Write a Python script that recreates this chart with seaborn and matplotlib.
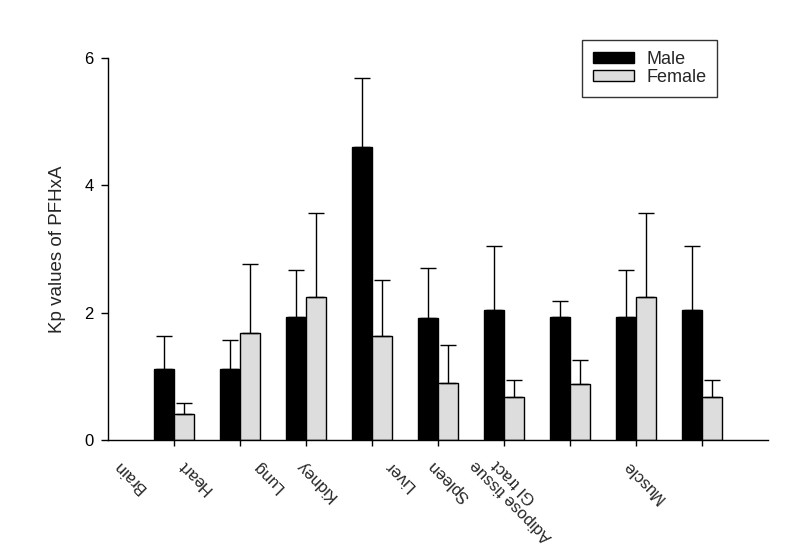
import numpy as np
import pandas as pd
import seaborn as sns
import matplotlib
matplotlib.use("Agg")
import matplotlib.pyplot as plt
from matplotlib.patches import Patch
from matplotlib.transforms import blended_transform_factory

sns.set_theme(style="ticks")
plt.rcParams['font.family'] = ['Liberation Sans', 'DejaVu Sans']

# ---- data ----
organs = ["Brain", "Heart", "Lung", "Kidney", "Liver", "Spleen",
          "Adipose tissue", "GI tract", "Muscle"]
male_vals = [1.12, 1.11, 1.93, 4.60, 1.91, 2.04, 1.93, 1.93, 2.04]
male_sd = [0.51, 0.46, 0.74, 1.08, 0.79, 1.01, 0.26, 0.74, 1.00]
female_vals = [0.41, 1.68, 2.25, 1.64, 0.89, 0.67, 0.875, 2.25, 0.67]
female_sd = [0.17, 1.08, 1.31, 0.88, 0.61, 0.28, 0.375, 1.31, 0.28]
sexes = ["Male", "Female"]
y_ticks = [0, 2, 4, 6]
# label anchor positions (data x) as drawn in the reference
label_pos = [-0.97, 0.02, 1.14, 1.80, 3.15, 3.80, 4.45, 4.79, 6.76]

df = pd.DataFrame({
    "organ": organs * 2,
    "sex": ["Male"] * len(organs) + ["Female"] * len(organs),
    "value": male_vals + female_vals,
})
sds = {"Male": male_sd, "Female": female_sd}
colors = {"Male": "#000000", "Female": "#dddddd"}

fig = plt.figure(figsize=(7.95, 5.49), dpi=100)
ax = fig.add_axes([108 / 795, 1 - 440 / 549, 660 / 795, 382 / 549])

sns.barplot(data=df, x="organ", y="value", hue="sex", order=organs,
            hue_order=sexes, palette=colors, edgecolor="black",
            linewidth=1.0, width=0.6, errorbar=None, ax=ax, legend=False)

for sex, cont in zip(sexes, ax.containers):
    for bar, sd in zip(cont.patches, sds[sex]):
        xc = bar.get_x() + bar.get_width() / 2
        h = bar.get_height()
        ax.errorbar(xc, h, yerr=[[0], [sd]], fmt="none", ecolor="black",
                    elinewidth=1.0, capsize=5.6, capthick=1.0, zorder=1)

ax.set_xlim(-1.0, 9.0)
ax.set_ylim(0, 6)
ax.set_yticks(y_ticks)
ax.set_yticklabels([str(t) for t in y_ticks], fontsize=12)
ax.set_xticks(range(len(organs)))
ax.set_xticklabels([""] * len(organs))
ax.tick_params(axis="y", direction="out", length=5, width=1, pad=5.5, colors="black")
ax.tick_params(axis="x", direction="out", length=4, width=1, colors="black")
ax.set_xlabel("")
ax.set_ylabel("Kp values of PFHxA", fontsize=13.5, labelpad=13)
sns.despine(ax=ax)
for sp in ["left", "bottom"]:
    ax.spines[sp].set_linewidth(1.0)
    ax.spines[sp].set_color("black")

trans = blended_transform_factory(ax.transData, ax.transAxes)
for name, xp in zip(organs, label_pos):
    ax.text(xp, -0.045, name, rotation=135, ha="left", va="top",
            fontsize=12, transform=trans)

handles = [Patch(facecolor=colors[s], edgecolor="black", linewidth=1.0, label=s)
           for s in sexes]
leg = ax.legend(handles=handles, loc="upper left",
                bbox_to_anchor=(582 / 795, 1 - 40 / 549),
                bbox_transform=fig.transFigure, fontsize=13,
                frameon=True, fancybox=False, shadow=False,
                handlelength=2.3, handleheight=0.55, handletextpad=0.65,
                borderpad=0.6, labelspacing=0.05, borderaxespad=0)
leg.get_frame().set_edgecolor("black")
leg.get_frame().set_linewidth(1.0)

fig.savefig("out.png", dpi=100)
